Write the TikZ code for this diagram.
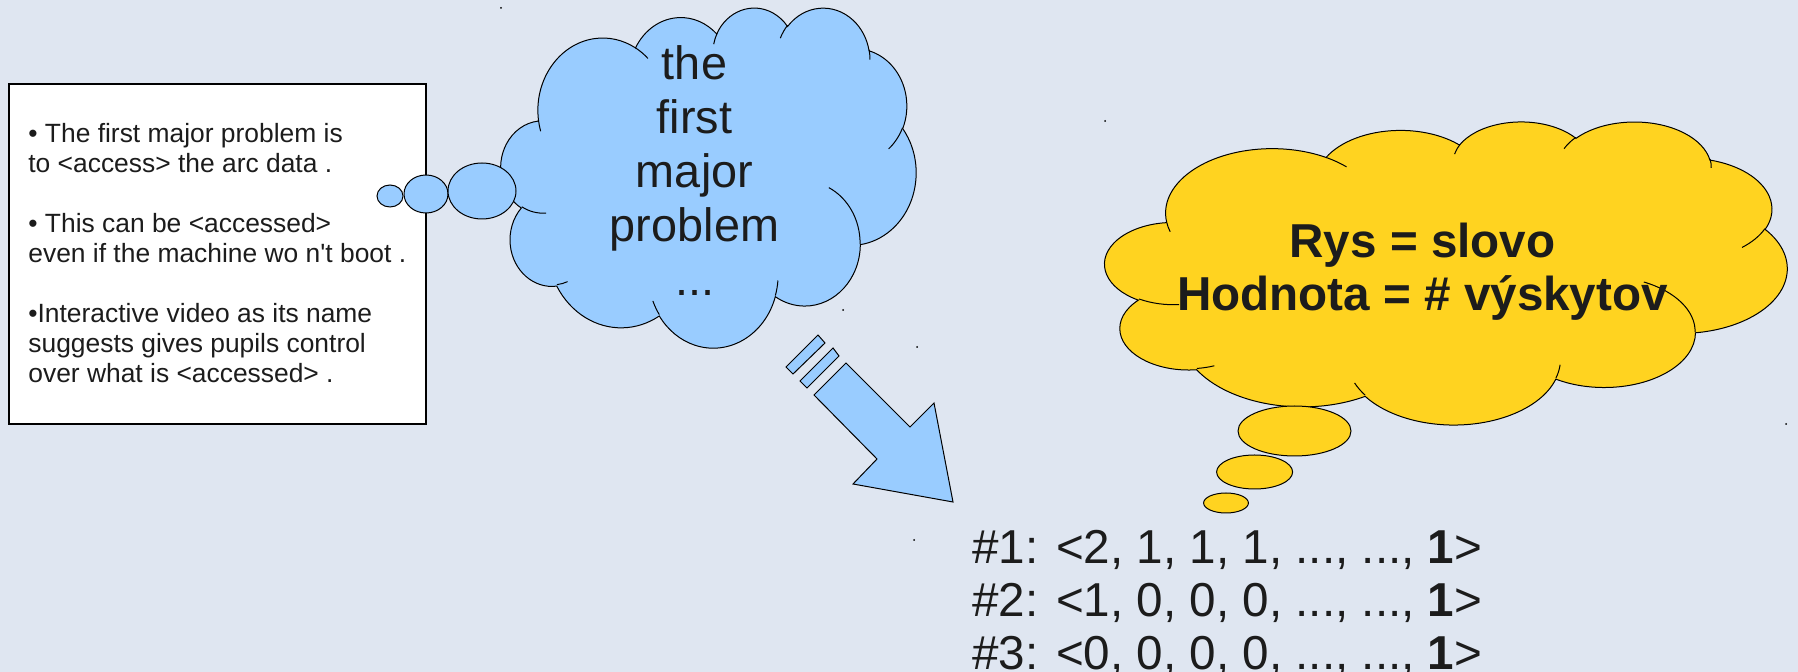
\documentclass[tikz,border=0pt]{standalone}
\usepackage{fontspec}
\usepackage{tikz}
\newfontfamily\arialfont{Liberation Sans}

\definecolor{slidebg}{RGB}{223,230,241}
\definecolor{skyblue}{RGB}{153,204,255}
\definecolor{sunyellow}{RGB}{255,211,32}
\definecolor{inkgray}{RGB}{28,28,28}

% cloud outline in a 432 x 432 box: colour, top left corner, x unit, y unit
\newcommand{\thoughtcloud}[4]{%
  \begin{scope}[shift={#2}, x=#3, y=#4]
    \filldraw[fill=#1, draw=black, line width=0.5pt]
      (39.00,143.70) arc[start angle=172.25, end angle=300.36, x radius=67.53, y radius=91.90]
      arc[start angle=207.96, end angle=314.53, x radius=53.33, y radius=72.67]
      arc[start angle=206.50, end angle=322.68, x radius=43.65, y radius=59.45]
      arc[start angle=220.28, end angle=349.79, x radius=48.57, y radius=65.95]
      arc[start angle=-74.77, end angle=23.21, x radius=53.33, y radius=72.73]
      arc[start angle=-37.52, end angle=81.86, x radius=67.75, y radius=92.20]
      arc[start angle=0.46, end angle=121.98, x radius=57.85, y radius=78.67]
      arc[start angle=16.85, end angle=146.22, x radius=67.52, y radius=92.15]
      arc[start angle=58.98, end angle=150.20, x radius=77.20, y radius=105.43]
      arc[start angle=83.31, end angle=223.11, x radius=43.60, y radius=59.18]
      arc[start angle=120.36, end angle=264.11, x radius=43.45, y radius=59.45]
      -- cycle;
    \draw[line width=0.5pt]
      (46.93,261.77) arc[start angle=85.55, end angle=120.36, x radius=43.45, y radius=59.45]
      (69.28,348.99) arc[start angle=68.24, end angle=83.31, x radius=43.60, y radius=59.18]
      (164.78,390.90) arc[start angle=146.22, end angle=158.48, x radius=67.52, y radius=92.15]
      (288.27,347.51) arc[start angle=4.74, end angle=16.85, x radius=67.52, y radius=92.15]
      (341.29,229.54) arc[start angle=-64.03, end angle=0.46, x radius=57.85, y radius=78.67]
      (417.98,153.54) arc[start angle=23.21, end angle=49.64, x radius=53.33, y radius=72.73]
      (383.24,54.26) arc[start angle=-10.21, end angle=0.82, x radius=48.57, y radius=65.95]
      (290.78,39.52) arc[start angle=-156.29, end angle=-139.72, x radius=48.57, y radius=65.95]
      (221.41,47.20) arc[start angle=-167.73, end angle=-153.50, x radius=43.65, y radius=59.45]
      (140.00,51.92) arc[start angle=-59.64, end angle=-45.75, x radius=67.53, y radius=91.90]
      (41.27,157.89) arc[start angle=163.19, end angle=172.25, x radius=67.53, y radius=91.90];
  \end{scope}}

\begin{document}
\begin{tikzpicture}[x=0.5pt, y=-0.5pt,
  outline/.style={draw=black, line width=0.5pt},
  notetext/.style={inner sep=0pt, align=left, text=inkgray, font=\arialfont\fontsize{13.2}{15}\selectfont},
  cloudtext/.style={inner sep=0pt, align=center, text=inkgray, font=\arialfont\fontsize{23.4}{27}\selectfont},
  ideatext/.style={inner sep=0pt, align=center, text=inkgray, font=\arialfont\bfseries\fontsize{23.8}{26.5}\selectfont},
  vectortext/.style={inner sep=0pt, align=left, text=inkgray, font=\arialfont\fontsize{23.8}{26.5}\selectfont}]
\useasboundingbox (0,0) rectangle (1798,672);
\fill[slidebg] (0,0) rectangle (1798,672);

% text box on the left
\draw[outline, fill=white, line width=0.6pt] (9,84) rectangle (426,424);
\node[notetext, anchor=west] (notes) at (28,253)
  {• The first major problem is\\
   to <access> the arc data .\\[15pt]
   • This can be <accessed>\\
   even if the machine wo n't boot .\\[15pt]
   •Interactive video as its name\\
   suggests gives pupils control\\
   over what is <accessed> .};

% blue cloud and its bubbles
\thoughtcloud{skyblue}{(501,7)}{0.48032pt}{-0.39352pt}
\draw[outline, fill=skyblue] (390,196) ellipse (13 and 11);
\draw[outline, fill=skyblue] (426,194) ellipse (22 and 19);
\draw[outline, fill=skyblue] (482,191) ellipse (34 and 28);
\node[cloudtext] (thought) at (694.5,171) {the\\first\\major\\problem\\...};

% arrow
\draw[outline, fill=skyblue] (786,367) -- (793,374) -- (825,343) -- (818,335) -- cycle;
\draw[outline, fill=skyblue] (800,381) -- (807,388) -- (839,356) -- (833,348) -- cycle;
\draw[outline, fill=skyblue] (846,363) -- (814,395) -- (877,459) -- (853,484)
  -- (953,502) -- (934,403) -- (910,427) -- cycle;

% yellow cloud and its bubbles
\thoughtcloud{sunyellow}{(1105,121)}{0.78935pt}{-0.35069pt}
\draw[outline, fill=sunyellow] (1294.5,431) ellipse (56.5 and 25);
\draw[outline, fill=sunyellow] (1254.6,472) ellipse (38 and 17);
\draw[outline, fill=sunyellow] (1226,503) ellipse (22.4 and 10);
\node[ideatext] (feature) at (1422.5,271.5) {Rys = slovo\\Hodnota = \# výskytov};

% vectors
\node[vectortext, anchor=west] (vectors) at (972,602.5)
  {\#1: <2, 1, 1, 1, ..., ..., \textbf{1}>\\
   \#2: <1, 0, 0, 0, ..., ..., \textbf{1}>\\
   \#3: <0, 0, 0, 0, ..., ..., \textbf{1}>};

% stray handle dots
\foreach \p in {(501,8),(917,347),(843,310),(914,540),(1105,121),(1786,424)}
  \fill[black] \p circle (1);
\end{tikzpicture}
\end{document}
